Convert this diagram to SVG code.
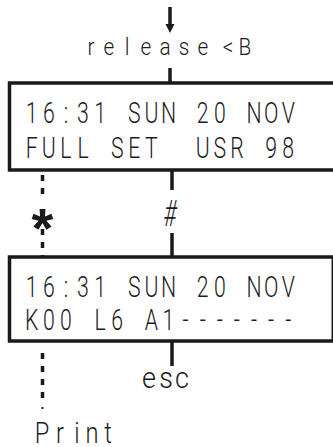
<svg xmlns="http://www.w3.org/2000/svg" width="333" height="447" viewBox="0 0 333 447">
<style>
.t{font-family:Roboto,"Liberation Sans",sans-serif;font-weight:300;fill:#1a1a1a;text-anchor:middle;}
.box{fill:#fff;stroke:#1a1a1a;stroke-width:3.5;}
.ln{stroke:#1a1a1a;stroke-width:3.5;fill:none;}
.dot{stroke:#1a1a1a;stroke-width:3.5;fill:none;stroke-dasharray:6 7;}
.g{opacity:0.99;}
</style>
<rect width="333" height="447" fill="#fff"/>
<g id="connectors">
<line class="ln" x1="170" y1="7" x2="170" y2="25"/>
<polygon points="165.5,24 174.5,24 170,33" fill="#1a1a1a"/>
<line class="ln" x1="170" y1="68" x2="170" y2="83"/>
<line class="ln" x1="172" y1="170" x2="172" y2="190"/>
<line class="ln" x1="172" y1="233" x2="172" y2="257"/>
<line class="ln" x1="172" y1="341" x2="172" y2="366"/>
<line class="dot" x1="42.5" y1="175" x2="42.5" y2="200"/>
<line class="dot" x1="42.5" y1="229" x2="42.5" y2="256"/>
<line class="dot" x1="42.5" y1="353" x2="42.5" y2="404"/>
<line x1="42.5" y1="407" x2="42.5" y2="409" stroke="#1a1a1a" stroke-width="2"/>
</g>
<g id="release" class="g" transform="scale(0.85 1)">
<text class="t" font-size="24.5" y="55" x="107.06 128.24 149.41 171.76 194.12 216.47 238.82 255 268.2 288.2" xml:space="preserve">release &lt;B</text>
</g>
<g id="box1">
<rect class="box" x="9.5" y="83" width="330" height="87"/>
<g class="g" transform="scale(0.72 1)">
<text class="t" font-size="29.5" y="123" x="44.03 67.78 91.53 115.28 139.03 162.78 186.53 210.28 234.03 257.78 281.53 305.28 329.03 352.78 376.53 400.28" xml:space="preserve">16:31 SUN 20 NOV</text>
<text class="t" font-size="29.5" y="158" x="44.03 67.78 91.53 115.28 139.03 162.78 186.53 210.28 234.03 257.78 281.53 305.28 329.03 352.78 376.53 400.28" xml:space="preserve">FULL SET  USR 98</text>
</g>
</g>
<g id="star">
<text x="42.5" y="247" font-size="56" font-weight="bold" text-anchor="middle" font-family="Liberation Sans,Arial,sans-serif" fill="#1a1a1a">*</text>
</g>
<g id="hash" class="g" transform="scale(0.625 1)">
<text class="t" x="272" y="226" font-size="36" font-style="italic">#</text>
</g>
<g id="box2">
<rect class="box" x="9.5" y="257" width="323.8" height="84"/>
<g class="g" transform="scale(0.72 1)">
<text class="t" font-size="29.5" y="297" x="44.03 67.78 91.53 115.28 139.03 162.78 186.53 210.28 234.03 257.78 281.53 305.28 329.03 352.78 376.53 400.28" xml:space="preserve">16:31 SUN 20 NOV</text>
<text class="t" font-size="29.5" y="330" x="44.03 67.78 91.53 115.28 139.03 162.78 186.53 210.28 234.03 257.78 281.53 305.28 329.03 352.78 376.53 400.28" xml:space="preserve">K00 L6 A1-------</text>
</g>
</g>
<g id="esc" class="g" transform="scale(0.9 1)">
<text class="t" font-size="30" y="388" x="165.56 184.44 202.22">esc</text>
</g>
<g id="print" class="g" transform="scale(0.8 1)">
<text class="t" font-size="29.5" y="443" x="52.5 75 96.25 115 135">Print</text>
</g>
</svg>
